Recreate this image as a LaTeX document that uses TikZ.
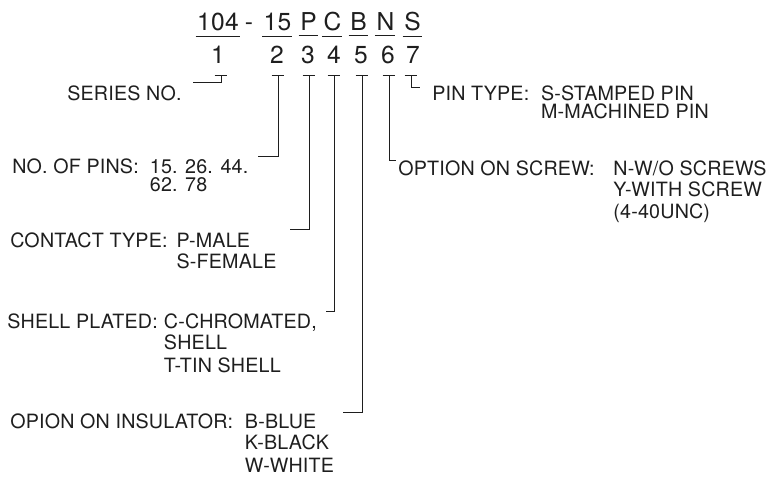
\documentclass[tikz,border=0pt]{standalone}
\usepackage{fontspec}
\setmainfont{TeX Gyre Heros}
\newfontfamily\partfont{TeX Gyre Heros}[LetterSpace=1]
\definecolor{partInk}{HTML}{1E1E1E}
\tikzset{
  code/.style={anchor=base,inner sep=0pt,text=partInk,font=\partfont\fontsize{17.5}{20}\selectfont},
  lbl/.style={anchor=base west,inner sep=0pt,text=partInk,font=\partfont\fontsize{14}{16}\selectfont},
  lead/.style={draw=partInk,line width=0.6pt}
}

\begin{document}
\begin{tikzpicture}[x=0.025cm,y=-0.025cm]
  \useasboundingbox (0,0) rectangle (775,481);
  % part number and position numbers
  \node[code] (codeSeries) at (218,30) {104};
  \node[code] (codeDash) at (249,30) {-};
  \node[code] (codePins) at (277.5,30) {15};
  \node[code] (codeContact) at (308.5,30) {P};
  \node[code] (codeShell) at (332.5,30) {C};
  \node[code] (codeInsul) at (358.5,30) {B};
  \node[code] (codeScrew) at (385.5,30) {N};
  \node[code] (codePin) at (412.5,30) {S};
  \foreach \n in {codeSeries,codePins,codeContact,codeShell,codeInsul,codeScrew,codePin}
    \draw[lead] ([xshift=-1pt,yshift=-4pt]\n.south west) -- ([xshift=0.5pt,yshift=-4pt]\n.south east);
  \node[code] (num1) at (218,63) {1};
  \node[code] (num2) at (277,63) {2};
  \node[code] (num3) at (308,63) {3};
  \node[code] (num4) at (334,63) {4};
  \node[code] (num5) at (361,63) {5};
  \node[code] (num6) at (388,63) {6};
  \node[code] (num7) at (413,63) {7};

  % tick marks under the numbers
  \coordinate (tick1) at (221,75);
  \coordinate (tick2) at (278,75);
  \coordinate (tick3) at (309,75);
  \coordinate (tick4) at (334,75);
  \coordinate (tick5) at (362,75);
  \coordinate (tick6) at (389,75);
  \coordinate (tick7) at (411,75);
  \foreach \t in {tick1,tick2,tick3,tick4,tick5,tick6,tick7}
    \draw[lead] ([xshift=-4.5pt]\t) -- ([xshift=4.5pt]\t);

  % labels, left side
  \node[lbl] (seriesLbl) at (67,100) {SERIES NO.};
  \node[lbl] (pinsKey) at (12,173) {NO. OF PINS:};
  \node[lbl] (pinsVal) at ([xshift=7.5pt]pinsKey.base east) {15. 26. 44.};
  \node[lbl] (pinsVal2) at ([yshift=-12.8pt]pinsVal.base west) {62. 78};
  \node[lbl] (contactKey) at (10,247) {CONTACT TYPE:};
  \node[lbl] (contactVal) at ([xshift=6pt]contactKey.base east) {P-MALE};
  \node[lbl] (contactVal2) at ([yshift=-15.6pt]contactVal.base west) {S-FEMALE};
  \node[lbl] (shellKey) at (7,328) {SHELL PLATED:};
  \node[lbl] (shellVal) at ([xshift=4pt]shellKey.base east) {C-CHROMATED,};
  \node[lbl] (shellVal2) at ([yshift=-15.6pt]shellVal.base west) {SHELL};
  \node[lbl] (shellVal3) at ([yshift=-16.3pt]shellVal2.base west) {T-TIN SHELL};
  \node[lbl] (insulKey) at (10,428) {OPION ON INSULATOR:};
  \node[lbl] (insulVal) at ([xshift=8pt]insulKey.base east) {B-BLUE};
  \node[lbl] (insulVal2) at ([yshift=-15.6pt]insulVal.base west) {K-BLACK};
  \node[lbl] (insulVal3) at ([yshift=-16.3pt]insulVal2.base west) {W-WHITE};

  % labels, right side
  \node[lbl] (pinKey) at (432,100) {PIN TYPE:};
  \node[lbl] (pinVal) at ([xshift=8pt]pinKey.base east) {S-STAMPED PIN};
  \node[lbl] (pinVal2) at ([yshift=-13.5pt]pinVal.base west) {M-MACHINED PIN};
  \node[lbl] (screwKey) at (398,175) {OPTION ON SCREW:};
  \node[lbl] (screwVal) at ([xshift=13pt]screwKey.base east) {N-W/O SCREWS};
  \node[lbl] (screwVal2) at ([yshift=-15.6pt]screwVal.base west) {Y-WITH SCREW};
  \node[lbl] (screwVal3) at ([yshift=-15.6pt]screwVal2.base west) {(4-40UNC)};

  % leaders
  \draw[lead] (tick1) -- ([yshift=2pt]tick1 |- seriesLbl.north) -- ++(-28,0);
  \draw[lead] (tick2) -- ([yshift=2pt]tick2 |- pinsVal.north) -- ++(-20,0);
  \draw[lead] (tick3) -- ([yshift=2pt]tick3 |- contactVal.north) -- ++(-19,0);
  \draw[lead] (tick4) -- ([yshift=1pt]tick4 |- shellVal.north) -- ++(-8,0);
  \draw[lead] (tick5) -- ([yshift=1pt]tick5 |- insulVal.north) -- ++(-19,0);
  \draw[lead] (tick6) -- ([yshift=-0.5pt]tick6 |- screwKey.north) -- ++(7,0);
  \draw[lead] (tick7) -- ([yshift=-1.5pt]tick7 |- pinKey.north) -- ++(9,0);
\end{tikzpicture}
\end{document}
